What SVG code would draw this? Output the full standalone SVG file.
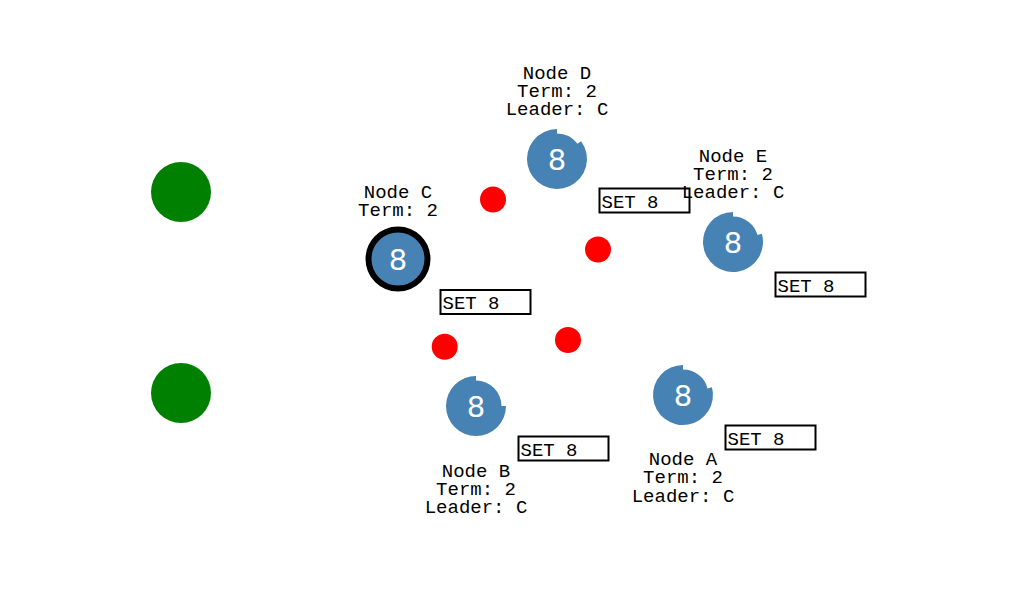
<svg xmlns="http://www.w3.org/2000/svg" width="1009" height="592" viewBox="0 0 1009 592">
<style>
  .bg { fill: #ffffff; }
  .client { fill: #008000; }
  .msg { fill: #ff0000; }
  .core { fill: #4682b4; }
  .leader { fill: #4682b4; stroke: #000000; stroke-width: 6; }
  .num { font-family: "DejaVu Sans", "Liberation Sans", sans-serif; font-size: 29px; fill: #ffffff; text-anchor: middle; }
  .lbl { font-family: "Liberation Mono", "Courier New", monospace; font-size: 19px; fill: #000000; text-anchor: middle; }
  .box { fill: none; stroke: #000000; stroke-width: 2; }
  .cmd { font-family: "Liberation Mono", "Courier New", monospace; font-size: 19px; fill: #000000; }
</style>
<rect class="bg" x="0" y="0" width="1009" height="592"/>
<g id="connectors"/>
<g id="clients">
  <circle class="client" cx="181" cy="192" r="30"/>
  <circle class="client" cx="181" cy="393" r="30"/>
</g>
<g id="messages">
  <circle class="msg" cx="493" cy="199.5" r="13"/>
  <circle class="msg" cx="598" cy="249.5" r="13"/>
  <circle class="msg" cx="444.7" cy="346.7" r="13"/>
  <circle class="msg" cx="568" cy="340" r="13"/>
</g>
<g id="node-d">
  <path class="core" d="M581.12,141.16 A30,30 0 1 1 557,129 L557,133.5 A25.5,25.5 0 0 1 577.50,143.83 Z"/>
  <text class="num" x="557" y="169.5">8</text>
  <text class="lbl" x="557" y="78.5">Node D</text>
  <text class="lbl" x="557" y="96.8">Term: 2</text>
  <text class="lbl" x="557" y="115">Leader: C</text>
  <rect class="box" x="599.5" y="188.5" width="90" height="24"/>
  <text class="cmd" x="601.5" y="207.5">SET 8</text>
</g>
<g id="node-c">
  <circle class="leader" cx="398" cy="259" r="29.5"/>
  <text class="num" x="398" y="269.5">8</text>
  <text class="lbl" x="398" y="198">Node C</text>
  <text class="lbl" x="398" y="216.3">Term: 2</text>
  <rect class="box" x="440.5" y="290" width="90" height="24"/>
  <text class="cmd" x="442.5" y="309">SET 8</text>
</g>
<g id="node-e">
  <path class="core" d="M761.84,233.73 A30,30 0 1 1 733,212 L733,216.5 A25.5,25.5 0 0 1 757.51,234.97 Z"/>
  <text class="num" x="733" y="252.5">8</text>
  <text class="lbl" x="733" y="161.8">Node E</text>
  <text class="lbl" x="733" y="180">Term: 2</text>
  <text class="lbl" x="733" y="198.3">Leader: C</text>
  <rect class="box" x="775.5" y="272.5" width="90" height="24"/>
  <text class="cmd" x="777.5" y="291.5">SET 8</text>
</g>
<g id="node-b">
  <path class="core" d="M506,406 A30,30 0 1 1 476,376 L476,380.5 A25.5,25.5 0 0 1 501.5,406 Z"/>
  <text class="num" x="476" y="416.5">8</text>
  <text class="lbl" x="476" y="476.6">Node B</text>
  <text class="lbl" x="476" y="494.6">Term: 2</text>
  <text class="lbl" x="476" y="512.7">Leader: C</text>
  <rect class="box" x="518.5" y="436.5" width="90" height="24"/>
  <text class="cmd" x="520.5" y="455.5">SET 8</text>
</g>
<g id="node-a">
  <path class="core" d="M711.98,387.24 A30,30 0 1 1 683,365 L683,369.5 A25.5,25.5 0 0 1 707.63,388.40 Z"/>
  <text class="num" x="683" y="405.5">8</text>
  <text class="lbl" x="683" y="465">Node A</text>
  <text class="lbl" x="683" y="483.3">Term: 2</text>
  <text class="lbl" x="683" y="501.7">Leader: C</text>
  <rect class="box" x="725.5" y="425.5" width="90" height="24"/>
  <text class="cmd" x="727.5" y="444.5">SET 8</text>
</g>
</svg>
